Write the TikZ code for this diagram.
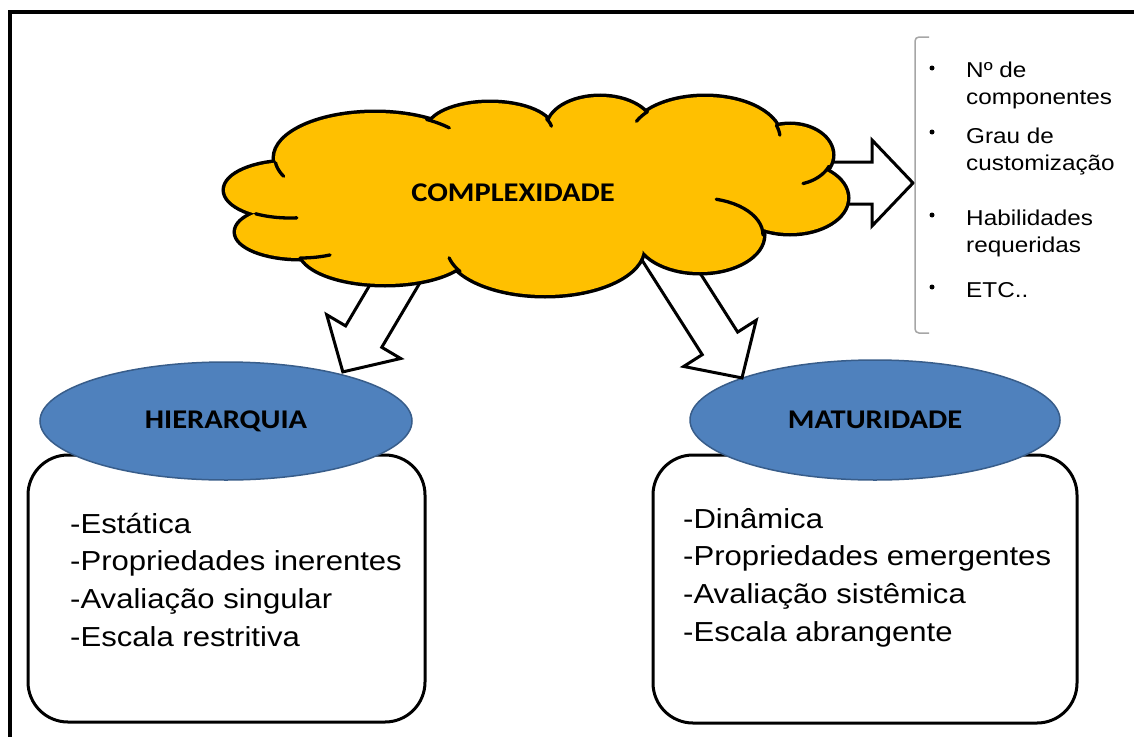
\documentclass[tikz,border=0pt]{standalone}
\usepackage{fontspec}
\setmainfont{Liberation Sans}[FakeStretch=1.13]
\newfontfamily\headfont{Carlito}[FakeStretch=1.13]
\usetikzlibrary{shapes.geometric}
\definecolor{cloudfill}{HTML}{FFC000}
\definecolor{ovalfill}{HTML}{4F81BD}
\definecolor{ovaledge}{HTML}{385D8A}
\definecolor{bracketgray}{HTML}{A6A6A6}
\tikzset{
  heading/.style={font=\headfont\bfseries\fontsize{27}{30}\selectfont, inner sep=0pt},
  bodyline/.style={font=\fontsize{27.5}{33}\selectfont, inner sep=0pt, anchor=base west},
  listline/.style={font=\fontsize{21.5}{26}\selectfont, inner sep=0pt, anchor=base west},
  oval/.style={ellipse, draw=ovaledge, fill=ovalfill, line width=1.5pt, minimum width=372pt, minimum height=118pt, heading},
  textbox/.style={draw, line width=3pt, rounded corners=40pt, fill=white},
  bulletdot/.style={circle, fill=black, inner sep=0pt, minimum size=5pt},
  pics/barrow/.style={code={
    \draw[line width=3pt, fill=white, line join=miter]
      (0,-21) -- ({#1-41},-21) -- ({#1-41},-43) -- (#1,0) -- ({#1-41},43) -- ({#1-41},21) -- (0,21) -- cycle;}}
}
\begin{document}
\begin{tikzpicture}[x=1pt,y=-1pt]
\useasboundingbox (0,0) rectangle (1134,736);
\clip (0,0) rectangle (1134,736);
\fill[white] (0,0) rectangle (1134,736);
% frame
\draw[line width=3.5pt] (10,12) rectangle (1170,770);

% text boxes
\node[textbox, minimum width=397pt, minimum height=267pt] (hbox) at (226.5,588.5) {};
\node[textbox, minimum width=424pt, minimum height=268pt] (mbox) at (865,589) {};

% ovals
\node[oval] (hier) at (226,421) {HIERARQUIA};
\node[oval, minimum width=370pt, minimum height=120pt] (mat) at (875,420) {MATURIDADE};

% block arrows (under the cloud)
\pic[rotate=239.4] (arrH) at (409,260) {barrow=130};
\pic[rotate=-57.5] (arrM) at (656,243) {barrow=160};
\pic (arrL) at (803,183) {barrow=110};

% cloud
\def\lobes{290/190/65/28, 300/232/64/26, 385/250/85/34, 545/248/98/47, 700/235/63/37, 790/198/57/35, 790/155/42/30, 705/138/75/41, 600/128/52/31, 490/130/62/27, 375/158/100/45}
\foreach \cx/\cy/\rx/\ry in \lobes {
  \draw[line width=7pt] (\cx,\cy) ellipse [x radius=\rx, y radius=\ry];
}
\foreach \cx/\cy/\rx/\ry in \lobes {
  \fill[cloudfill] (\cx,\cy) ellipse [x radius=\rx, y radius=\ry];
}
\fill[cloudfill] (290,190) -- (300,232) -- (385,250) -- (545,248) -- (700,235) -- (790,198) -- (790,155) -- (705,138) -- (600,128) -- (490,130) -- (375,158) -- cycle;
\foreach \cx/\cy/\rx/\ry/\ta/\tb in {290/190/65/28/84/122, 300/232/64/26/62/90, 545/248/98/47/150/168, 700/235/63/37/-75/0, 790/155/42/30/22/72, 705/138/75/41/-18/-4, 705/138/75/41/-156/-140, 490/130/62/27/-24/-8, 375/158/100/45/-59/-42, 375/158/100/45/156/174} {
  \draw[line width=3.3pt, line cap=round] plot[domain=\ta:\tb, samples=14] ({\cx+\rx*cos(\x)},{\cy+\ry*sin(\x)});
}
\node[heading, anchor=base] (cplx) at (513,201) {COMPLEXIDADE};

% bracket and list
\draw[bracketgray, line width=1.5pt, rounded corners=4pt] (929,37) -- (915,37) -- (915,333) -- (929,333);
\node[bulletdot] (b1) at (932,68) {};
\node[bulletdot] (b2) at (932,132) {};
\node[bulletdot] (b3) at (932,215) {};
\node[bulletdot] (b4) at (932,287) {};
\node[listline] (l1) at (966,77) {Nº de};
\node[listline] (l2) at (966,104) {componentes};
\node[listline] (l3) at (966,143) {Grau de};
\node[listline] (l4) at (966,170) {customização};
\node[listline] (l5) at (966,225) {Habilidades};
\node[listline] (l6) at (966,252) {requeridas};
\node[listline] (l7) at (966,297) {ETC..};

% box texts
\node[bodyline] (h1) at (70,533) {-Estática};
\node[bodyline] (h2) at (70,570) {-Propriedades inerentes};
\node[bodyline] (h3) at (70,608) {-Avaliação singular};
\node[bodyline] (h4) at (70,646) {-Escala restritiva};
\node[bodyline] (m1) at (683,528) {-Dinâmica};
\node[bodyline] (m2) at (683,565) {-Propriedades emergentes};
\node[bodyline] (m3) at (683,603) {-Avaliação sistêmica};
\node[bodyline] (m4) at (683,641) {-Escala abrangente};
\end{tikzpicture}
\end{document}
